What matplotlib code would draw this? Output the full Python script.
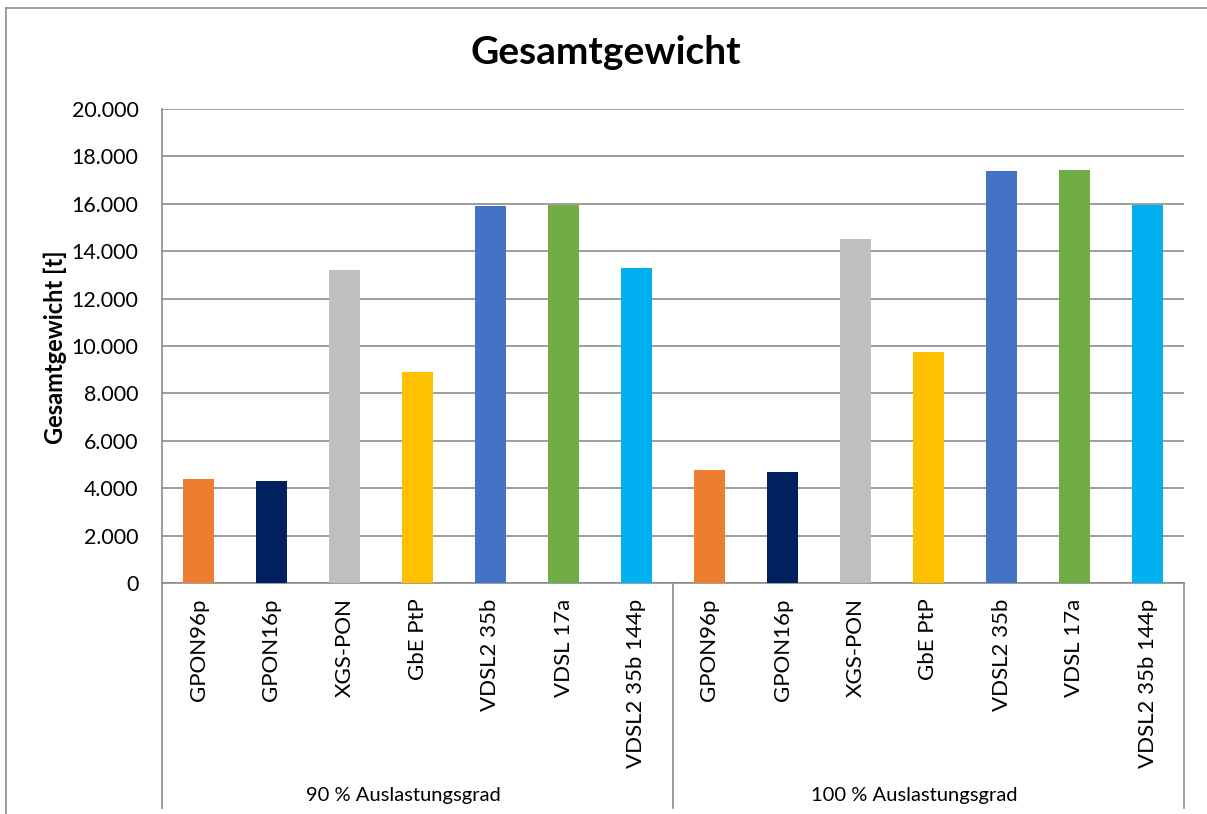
import numpy as np
import matplotlib
matplotlib.use("Agg")
import matplotlib.pyplot as plt
from matplotlib.lines import Line2D
from matplotlib.ticker import FuncFormatter
import matplotlib.transforms as mtransforms

plt.rcParams["font.family"] = ["Lato", "DejaVu Sans"]

# Daten
techs = ["GPON96p", "GPON16p", "XGS-PON", "GbE PtP", "VDSL2 35b", "VDSL 17a", "VDSL2 35b 144p"]
groups = ["90 % Auslastungsgrad", "100 % Auslastungsgrad"]
weight_90 = [4390, 4300, 13200, 8900, 15920, 15960, 13290]
weight_100 = [4770, 4680, 14510, 9750, 17400, 17430, 15950]
colors = ["#ED7D31", "#002060", "#BFBFBF", "#FFC000", "#4472C4", "#70AD47", "#00B0F0"]

values = weight_90 + weight_100
labels = techs + techs
bar_colors = colors + colors
x = np.arange(len(values))

grid_col = "#8c8c8c"

fig = plt.figure(figsize=(12.07, 8.14), dpi=100)
ax = fig.add_axes([162 / 1207, 1 - 583 / 814, (1184 - 162) / 1207, (583 - 109) / 814])

ax.bar(x, values, width=0.42, color=bar_colors, zorder=3)

ax.set_xlim(-0.5, len(values) - 0.5)
ax.set_ylim(0, 20000)
ax.set_yticks(np.arange(0, 20001, 2000))
ax.yaxis.set_major_formatter(FuncFormatter(lambda v, p: f"{int(v):,}".replace(",", ".")))
ax.grid(axis="y", color=grid_col, linewidth=1.2, zorder=0)
ax.tick_params(axis="y", length=0, pad=17, labelsize=15.4)

ax.set_xticks(x)
ax.set_xticklabels(labels, rotation=90, va="top", ha="center", fontsize=16)
ax.tick_params(axis="x", length=0, pad=11)

for s in ["top", "right"]:
    ax.spines[s].set_visible(False)
for s in ["left", "bottom"]:
    ax.spines[s].set_color(grid_col)
    ax.spines[s].set_linewidth(1.2)

# Gruppentrenner und Gruppenbeschriftung
trans = mtransforms.blended_transform_factory(ax.transData, ax.transAxes)
low = -(808 - 583) / (583 - 109)
for xs in [-0.5, 6.5, 13.5]:
    ax.add_line(Line2D([xs, xs], [0, low], transform=trans, color=grid_col,
                       linewidth=1.2, clip_on=False))
for i, g in enumerate(groups):
    ax.text(2.8 + 7 * i, -(795 - 583) / (583 - 109), g, transform=trans,
            ha="center", va="center", fontsize=14.5)

fig.text(606 / 1207, 1 - 53 / 814, "Gesamtgewicht", ha="center", va="center",
         fontsize=28, fontweight="bold")
fig.text(55 / 1207, 1 - 347 / 814, "Gesamtgewicht [t]", rotation=90, ha="center", va="center",
         fontsize=17, fontweight="bold")

# Rahmen
fig.add_artist(Line2D([6 / 1207, 6 / 1207], [0, 1 - 8 / 814], color=grid_col, linewidth=1.2))
fig.add_artist(Line2D([6 / 1207, 1], [1 - 8 / 814, 1 - 8 / 814], color=grid_col, linewidth=1.2))

fig.savefig("out.png", dpi=100)
